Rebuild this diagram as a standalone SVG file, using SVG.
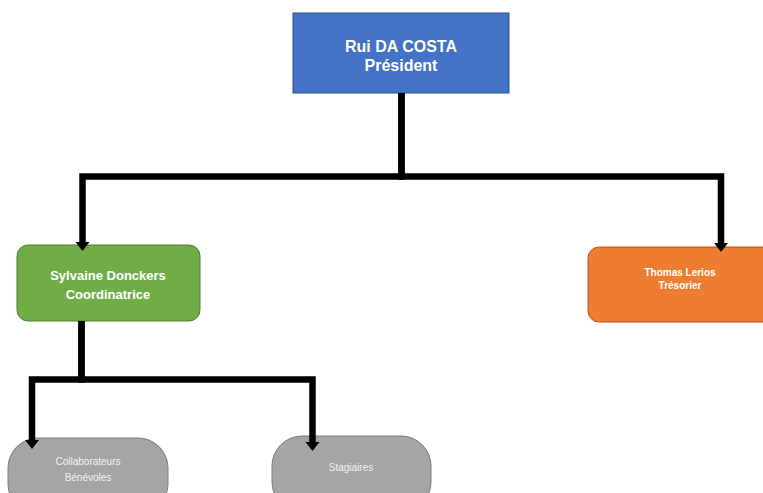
<svg xmlns="http://www.w3.org/2000/svg" width="763" height="493" viewBox="0 0 763 493">
<style>
.bg{fill:#ffffff}
.conn{fill:none;stroke:#000;stroke-width:6.5;stroke-linejoin:miter;stroke-linecap:butt}
.t{font-family:"Liberation Sans",Arial,sans-serif;text-anchor:middle}
.tw{fill:#ffffff;font-weight:bold}
.tg{fill:#f2f2f2}
</style>
<defs>
<marker id="arr" markerUnits="userSpaceOnUse" markerWidth="10" markerHeight="14" refX="1" refY="7" orient="auto" overflow="visible">
<path d="M0,0 L9,7 L0,14 Z" fill="#000"/>
</marker>
</defs>
<rect class="bg" x="0" y="0" width="763" height="493"/>
<g id="president">
<rect x="293" y="13" width="216" height="80" fill="#4472C4" stroke="#2F528F" stroke-width="1"/>
<text class="t tw" x="401" y="52" font-size="16">Rui DA COSTA</text>
<text class="t tw" x="401" y="71" font-size="16">Président</text>
</g>
<g id="coordinatrice">
<rect x="17" y="245" width="183" height="76" rx="11" fill="#70AD47" stroke="#507E32" stroke-width="1"/>
<text class="t tw" x="108" y="280" font-size="13">Sylvaine Donckers</text>
<text class="t tw" x="108" y="299" font-size="13">Coordinatrice</text>
</g>
<g id="tresorier">
<rect x="588" y="247" width="190" height="75" rx="11" fill="#ED7D31" stroke="#AE5A21" stroke-width="1"/>
<text class="t tw" x="680" y="276" font-size="10">Thomas Lerios</text>
<text class="t tw" x="680" y="289" font-size="10">Trésorier</text>
</g>
<g id="benevoles">
<rect x="8" y="438" width="160" height="76" rx="30" fill="#A5A5A5" stroke="#7C7C7C" stroke-width="1"/>
<text class="t tg" x="88" y="465" font-size="10">Collaborateurs</text>
<text class="t tg" x="88" y="481" font-size="10">Bénévoles</text>
</g>
<g id="stagiaires">
<rect x="272" y="436" width="159" height="76" rx="30" fill="#A5A5A5" stroke="#7C7C7C" stroke-width="1"/>
<text class="t tg" x="351" y="471" font-size="10">Stagiaires</text>
</g>
<g id="connectors">
<path class="conn" d="M401.5,93 V176.5 H82.5 V243" marker-end="url(#arr)"/>
<path class="conn" d="M401.5,93 V176.5 H721 V244" marker-end="url(#arr)"/>
<path class="conn" d="M81.5,321 V379.5 H32 V441" marker-end="url(#arr)"/>
<path class="conn" d="M81.5,321 V379.5 H312.5 V443" marker-end="url(#arr)"/>
</g>
</svg>
